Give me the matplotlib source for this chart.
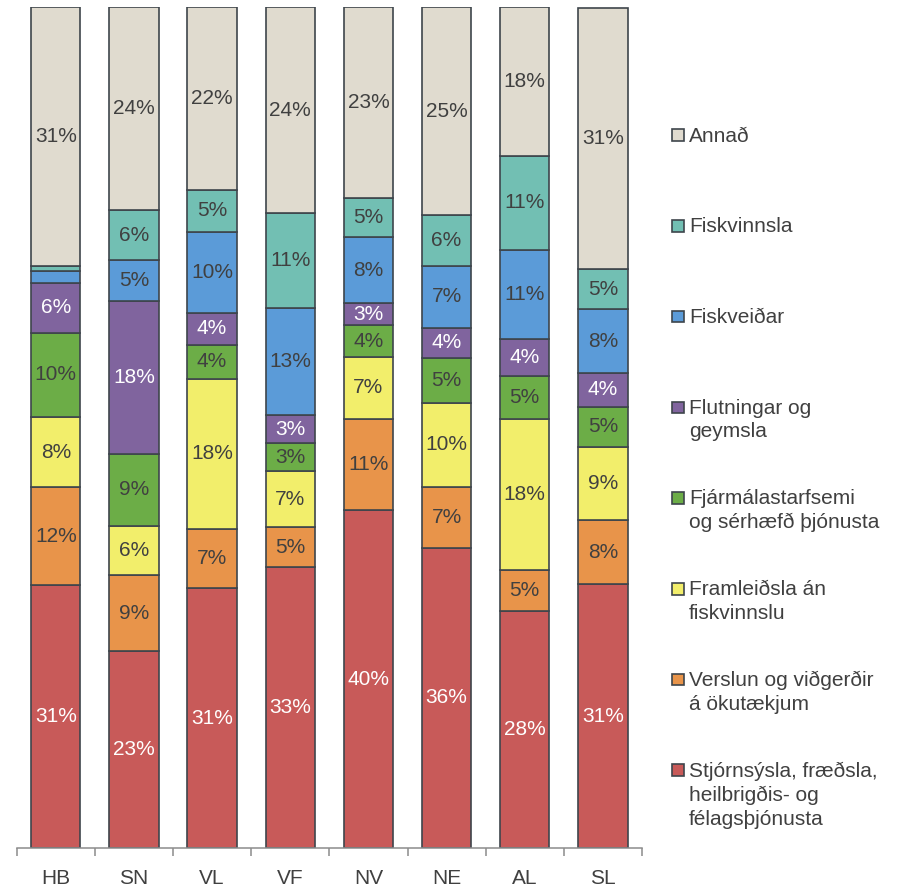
import matplotlib
matplotlib.use("Agg")
import matplotlib.pyplot as plt
from matplotlib.patches import Rectangle
import numpy as np

plt.rcParams['font.family'] = ['Liberation Sans', 'DejaVu Sans']

regions = ["HB", "SN", "VL", "VF", "NV", "NE", "AL", "SL"]

# bottom to top
series_names = [
    "Stjórnsýsla, fræðsla,\nheilbrigðis- og\nfélagsþjónusta",
    "Verslun og viðgerðir\ná ökutækjum",
    "Framleiðsla án\nfiskvinnslu",
    "Fjármálastarfsemi\nog sérhæfð þjónusta",
    "Flutningar og\ngeymsla",
    "Fiskveiðar",
    "Fiskvinnsla",
    "Annað",
]
stjornsysla = [31.3, 23.4, 30.9, 33.4, 40.2, 35.7, 28.2, 31.4]
verslun     = [11.6,  9.1,  7.1,  4.8, 10.9,  7.3,  4.9,  7.6]
framleidsla = [ 8.4,  5.8, 17.8,  6.6,  7.3, 10.0, 18.0,  8.7]
fjarmal     = [10.0,  8.6,  4.1,  3.4,  3.8,  5.3,  5.1,  4.8]
flutningar  = [ 5.9, 18.2,  3.8,  3.3,  2.6,  3.6,  4.4,  4.0]
fiskveidar  = [ 1.4,  4.8,  9.6, 12.7,  7.9,  7.4, 10.6,  7.6]
fiskvinnsla = [ 0.7,  6.0,  5.0, 11.4,  4.6,  6.0, 11.1,  4.8]
annad       = [30.7, 24.1, 21.7, 24.4, 22.7, 24.7, 17.7, 31.1]

data = [stjornsysla, verslun, framleidsla, fjarmal, flutningar, fiskveidar, fiskvinnsla, annad]
colors = ['#C85A59', '#E8944A', '#F2EE6B', '#6CAD47', '#80649E', '#5B9BD8', '#72BFB3', '#E0DBCF']
label_colors = ['white', '#404040', '#404040', '#404040', 'white', '#404040', '#404040', '#404040']
edge = '#3E454C'
text_col = '#404040'
FS = 15

W, H = 897, 888
fig = plt.figure(figsize=(W / 100, H / 100), dpi=100)
ax = fig.add_axes([16.7 / W, 1 - 848 / H, (642 - 16.7) / W, (848 - 7.5) / H])

x = np.arange(len(regions))
bottom = np.zeros(len(regions))
for vals, col, lc in zip(data, colors, label_colors):
    vals = np.array(vals)
    ax.bar(x, vals, width=0.63, bottom=bottom, color=col, edgecolor=edge, linewidth=1.2, zorder=2)
    for xi, b, v in zip(x, bottom, vals):
        if v >= 2:
            ax.text(xi, b + v / 2, f"{v:.0f}%", ha='center', va='center', fontsize=FS, color=lc, zorder=3)
    bottom += vals

ax.set_xlim(-0.5, len(regions) - 0.5)
ax.set_ylim(0, 100)
ax.set_xticks(x)
ax.set_xticklabels(regions, fontsize=FS, color=text_col)
ax.tick_params(axis='x', which='major', length=0, pad=15)
ax.set_xticks(np.arange(-0.5, len(regions), 1.0), minor=True)
ax.tick_params(axis='x', which='minor', length=5.5, color='#8C8C8C', width=1.1)
ax.set_yticks([])
for s in ['top', 'right', 'left']:
    ax.spines[s].set_visible(False)
ax.spines['bottom'].set_color('#8C8C8C')
ax.spines['bottom'].set_linewidth(1.1)
ax.spines['bottom'].set_zorder(4)

# legend (top to bottom)
base0 = 142
step = 90.7
for i, (name, col) in enumerate(zip(series_names[::-1], colors[::-1])):
    yb = base0 + i * step
    fig.add_artist(Rectangle((672 / W, 1 - (yb - 1) / H), 11.5 / W, 11.5 / H,
                             facecolor=col, edgecolor=edge, linewidth=1.2,
                             transform=fig.transFigure))
    fig.text(689 / W, 1 - (yb - 15.5) / H, name, ha='left', va='top', fontsize=FS,
             color=text_col, linespacing=1.32)

fig.savefig("out.png", dpi=100)
